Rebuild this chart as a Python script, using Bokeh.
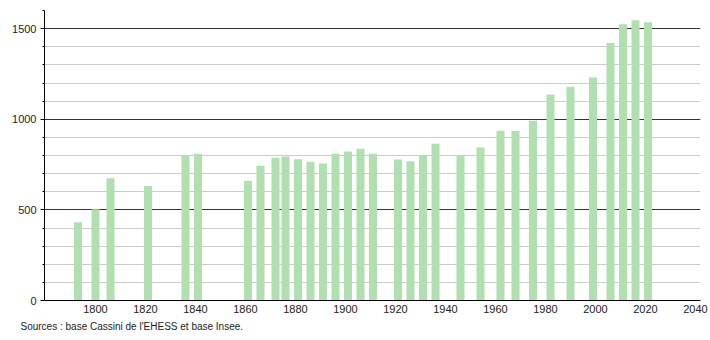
from bokeh.plotting import figure
from bokeh.models import ColumnDataSource, Title, FixedTicker, Range1d
from bokeh.embed import file_html
from bokeh.resources import INLINE

years = [1793, 1800, 1806, 1821, 1836, 1841, 1861, 1866, 1872, 1876, 1881, 1886,
         1891, 1896, 1901, 1906, 1911, 1921, 1926, 1931, 1936, 1946, 1954, 1962,
         1968, 1975, 1982, 1990, 1999, 2006, 2011, 2016, 2021]
population = [432, 504, 674, 632, 800, 809, 659, 743, 787, 794, 780, 765,
              756, 809, 822, 837, 809, 778, 768, 802, 865, 802, 844, 937,
              935, 992, 1136, 1179, 1230, 1421, 1524, 1546, 1535]
x_ticks = [1800, 1820, 1840, 1860, 1880, 1900, 1920, 1940, 1960, 1980, 2000, 2020, 2040]
y_ticks = [0, 500, 1000, 1500]
source_text = "Sources : base Cassini de l'EHESS et base Insee."

src = ColumnDataSource(dict(x=years, top=population))

p = figure(width=710, height=340, output_backend="svg", toolbar_location=None,
           x_range=Range1d(1779.6, 2042), y_range=Range1d(0, 1600),
           min_border_left=44, min_border_right=10, min_border_top=10,
           min_border_bottom=40)
p.outline_line_color = None
p.background_fill_color = "white"

p.vbar(x="x", top="top", width=3.2, source=src, fill_color="#b0e0b0",
       line_color=None)

p.xgrid.grid_line_color = None
p.ygrid.grid_line_color = "#333333"
p.ygrid.grid_line_width = 1
p.ygrid.minor_grid_line_color = "#cccccc"

p.yaxis.ticker = FixedTicker(ticks=y_ticks, minor_ticks=list(range(0, 1601, 100)))
p.xaxis.ticker = FixedTicker(ticks=x_ticks)

for ax in (p.xaxis[0], p.yaxis[0]):
    ax.axis_line_color = "black"
    ax.axis_line_width = 1
    ax.major_label_text_font = "Liberation Sans"
    ax.major_label_text_font_size = "11px"
    ax.major_label_text_color = "#222222"

p.yaxis.major_tick_out = 4
p.yaxis.major_tick_in = 0
p.yaxis.minor_tick_out = 2
p.yaxis.minor_tick_in = 0
p.yaxis.major_tick_line_color = "black"
p.yaxis.minor_tick_line_color = "black"
p.yaxis.major_label_standoff = 4

p.xaxis.major_tick_out = 0
p.xaxis.major_tick_in = 0
p.xaxis.minor_tick_line_color = None
p.xaxis.major_label_standoff = 4

t = Title(text=source_text, align="left", text_font="Liberation Sans",
          text_font_size="10px", text_font_style="normal", text_color="#222222",
          offset=-24, standoff=6)
p.add_layout(t, "below")

open("out.html", "w").write(file_html(p, INLINE))
